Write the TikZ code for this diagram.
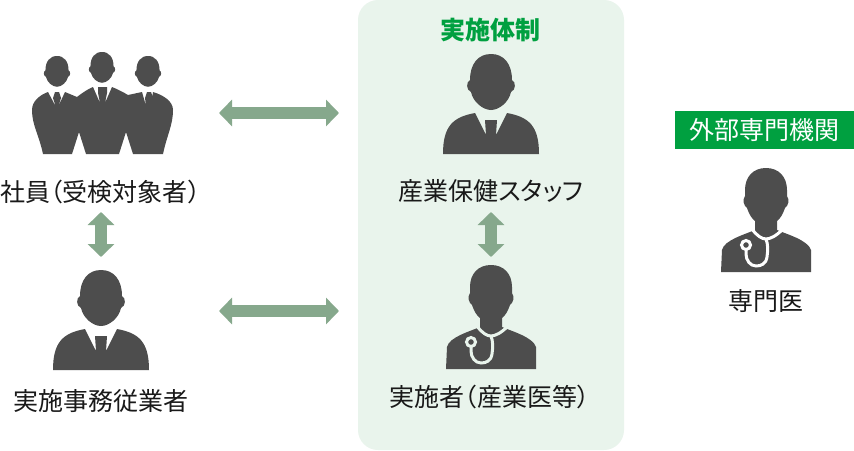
\documentclass[tikz,border=0pt]{standalone}
\usepackage{fontspec}
\setmainfont[RawFeature=+palt]{Noto Sans CJK JP}
\usepackage{xcolor}
\usetikzlibrary{arrows.meta,positioning}
\definecolor{figgray}{HTML}{4D4D4D}
\definecolor{panelgreen}{HTML}{E9F4EC}
\definecolor{titlegreen}{HTML}{00A040}
\definecolor{arrowgreen}{HTML}{86A88C}

\begin{document}
\begin{tikzpicture}[x=1pt,y=-1pt,font=\fontsize{25}{28}\selectfont,
label/.style={inner sep=0pt,text=black!90},
anchorbox/.style={inner sep=0pt,outer sep=0pt,minimum height=#1},
arr/.style={{Triangle[length=13pt,width=26pt]}-{Triangle[length=13pt,width=26pt]},line width=12pt,draw=arrowgreen},
pics/head/.style={code={
\fill[figgray] (0,-100) .. controls (-13,-100) and (-21,-90) .. (-21,-74)
 .. controls (-25,-72) and (-25,-64) .. (-20,-62)
 .. controls (-18,-52) and (-8,-44) .. (0,-44)
 .. controls (8,-44) and (18,-52) .. (20,-62)
 .. controls (25,-64) and (25,-72) .. (21,-74)
 .. controls (21,-90) and (13,-100) .. (0,-100) -- cycle;}},
pics/suit/.style={code={
\pic {head};
\fill[figgray] (-48,0) .. controls (-48,-28) and (-38,-37) .. (-16,-41)
 -- (-5,-19) -- (-6,-34) -- (6,-34) -- (5,-19) -- (16,-41)
 .. controls (38,-37) and (48,-28) .. (48,0) -- cycle;}},
pics/doctor/.style={code={
\fill[figgray] (0,-104) .. controls (-13,-104) and (-21,-95) .. (-21,-82)
 -- (-21,-76) .. controls (-24,-72) and (-22,-66) .. (-19,-64)
 .. controls (-17,-58) and (-14,-53) .. (-11,-51) -- (-11,-42)
 .. controls (-20,-38) and (-42,-32) .. (-44,-22) -- (-45,0) -- (45,0) -- (45,-22)
 .. controls (42,-32) and (20,-38) .. (11,-42) -- (11,-51)
 .. controls (14,-53) and (17,-58) .. (19,-64)
 .. controls (22,-66) and (24,-72) .. (21,-76) -- (21,-82)
 .. controls (21,-95) and (13,-104) .. (0,-104) -- cycle;
\draw[#1,line width=3pt] (-14,-43) .. controls (-9,-36) and (-4,-33) .. (0,-33)
 .. controls (4,-33) and (10,-36) .. (16,-42);
\draw[#1,line width=3pt] (0,-33) .. controls (2,-28) and (2,-22) .. (1,-15)
 .. controls (0,-8) and (-5,-6) .. (-10,-6)
 .. controls (-16,-6) and (-20,-12) .. (-20,-18) -- (-20,-22);
\draw[#1,line width=3pt] (-20,-27) circle[radius=4.5];}}]
\useasboundingbox (0,0) rectangle (854,450);
\fill[white] (0,0) rectangle (854,450);
\fill[panelgreen,rounded corners=20pt] (358,0) rectangle (624,450);
\node[font=\fontsize{25}{28}\selectfont\bfseries,text=titlegreen,inner sep=0pt] (title) at (490,30) {実施体制};
\node[fill=titlegreen,text=white,minimum width=179pt,minimum height=38pt,inner sep=0pt] (outside) at (764.5,130) {外部専門機関};
% figures
\fill[figgray] (43,154) .. controls (39,135) and (32,125) .. (32,110)
 .. controls (32,101) and (40,95) .. (48,92)
 -- (56,107) -- (53,98) -- (55,92) -- (59,92) -- (61,98) -- (58,107) -- (65,92)
 -- (77,97) .. controls (82,93) and (88,89) .. (93,87)
 -- (100,103) -- (98,93) -- (98,87) -- (107,87) -- (107,93) -- (105,103) -- (112,87)
 .. controls (117,89) and (123,92) .. (128,95)
 -- (142,92) -- (146,106) -- (145,98) -- (147,92) -- (151,92) -- (153,98) -- (151,106) -- (153,92)
 .. controls (163,95) and (173,101) .. (173,110)
 .. controls (173,125) and (167,135) .. (163,154)
 -- (133,154) -- (126,132) -- (119,154) -- (86,154) -- (79,132) -- (72,154) -- cycle;
\pic[scale=.55] at (57,111) {head};
\pic[scale=.55] at (102,107) {head};
\pic[scale=.55] at (148,111) {head};
\pic at (101,370) {suit};
\pic at (491,154) {suit};
\pic at (491,369) {doctor=panelgreen};
\pic at (766,272) {doctor=white};
% labels
\node[label] (group label) at (100.5,192) {社員（受検対象者）};
\node[label] (clerk label) at (101,401) {実施事務従業者};
\node[label] (nurse label) at (491,191) {産業保健スタッフ};
\node[label] (doctor label) at (489.5,397) {実施者（産業医等）};
\node[label] (outside label) at (766,301) {専門医};
% arrow ends
\node[anchorbox=198pt,minimum width=236pt] (group) at (101,113) {};
\node[anchorbox=108pt,minimum width=236pt] (clerk) at (101,311) {};
\node[anchorbox=198pt,minimum width=304pt] (nurse) at (491,113) {};
\node[anchorbox=108pt,minimum width=304pt] (doctor) at (491,311) {};
\draw[arr] (group.east)--(nurse.west);
\draw[arr] (clerk.east)--(doctor.west);
\draw[arr] (group.south)--(clerk.north);
\draw[arr] (nurse.south)--(doctor.north);
\end{tikzpicture}
\end{document}
